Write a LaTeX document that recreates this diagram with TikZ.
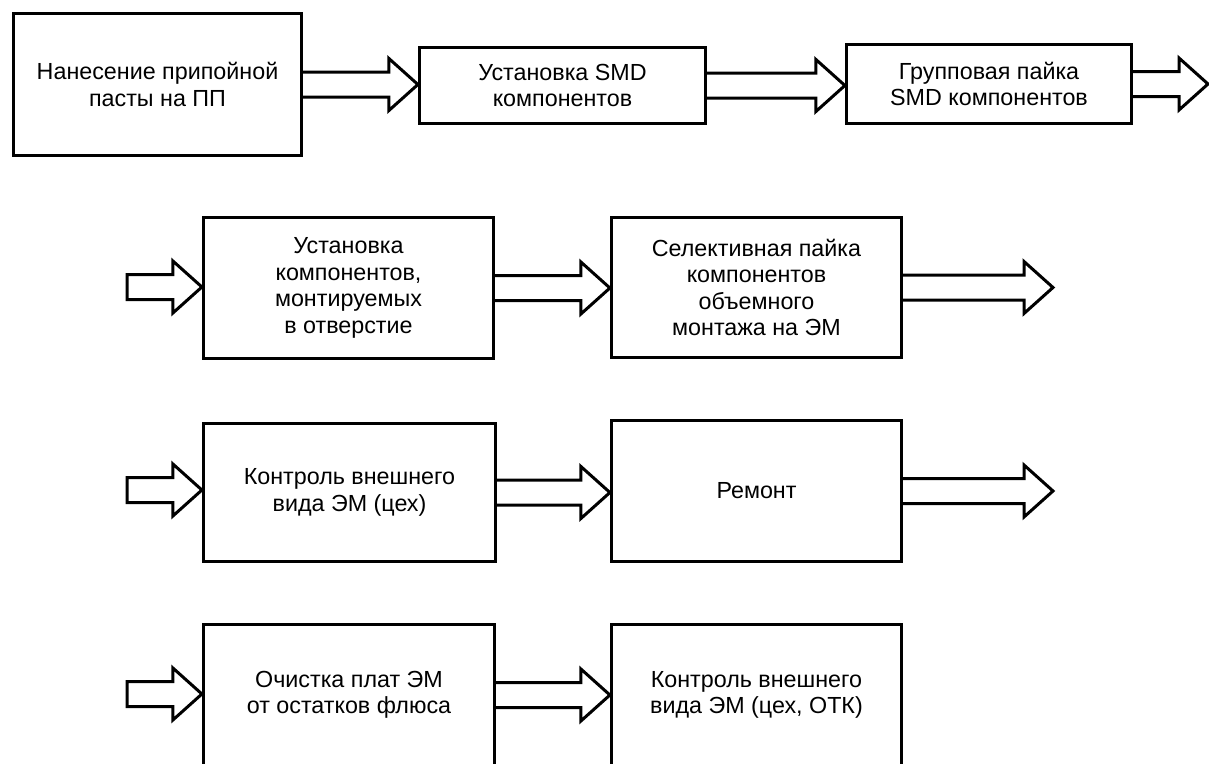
\documentclass[tikz,border=0pt]{standalone}
\usepackage{fontspec}
\setmainfont{Liberation Sans}
\usetikzlibrary{calc,backgrounds}
\tikzset{
  x=1pt, y=1pt,
  procbox/.style={draw, line width=3.2pt, align=center, inner sep=0pt,
    font=\fontsize{23.3}{26.5}\selectfont},
  fatarrow/.style={draw, line width=3pt, line join=miter, fill=white,
    to path={let \p1=(\tikztostart), \p2=(\tikztotarget) in
      (\x1,\y1+12.5pt) -- (\x2-29pt,\y1+12.5pt) -- (\x2-29pt,\y1+26pt) -- (\x2,\y1)
      -- (\x2-29pt,\y1-26pt) -- (\x2-29pt,\y1-12.5pt) -- (\x1,\y1-12.5pt)}},
  fatarrowclosed/.style={draw, line width=3pt, line join=miter, fill=white,
    to path={let \p1=(\tikztostart), \p2=(\tikztotarget) in
      (\x1,\y1+12.5pt) -- (\x2-29pt,\y1+12.5pt) -- (\x2-29pt,\y1+26pt) -- (\x2,\y1)
      -- (\x2-29pt,\y1-26pt) -- (\x2-29pt,\y1-12.5pt) -- (\x1,\y1-12.5pt) -- cycle}}
}
\begin{document}
\begin{tikzpicture}
\useasboundingbox (0,0) rectangle (1209,-763);
\clip (0,0) rectangle (1209,-763);

\node[procbox, minimum width=288pt, minimum height=142pt] (A) at (157.5,-84.5) {Нанесение припойной\\пасты на ПП};
\node[procbox, minimum width=286pt, minimum height=76pt] (B) at (562.5,-85.5) {Установка SMD\\компонентов};
\node[procbox, minimum width=285pt, minimum height=79pt] (C) at (989,-84) {Групповая пайка\\SMD компонентов};

\node[procbox, minimum width=290pt, minimum height=141pt] (D) at (348.5,-288) {Установка\\компонентов,\\монтируемых\\в отверстие};
\node[procbox, minimum width=290pt, minimum height=140pt] (E) at (756.5,-287.5) {Селективная пайка\\компонентов\\объемного\\монтажа на ЭМ};

\node[procbox, minimum width=292pt, minimum height=138pt] (F) at (349.5,-492.5) {Контроль внешнего\\вида ЭМ (цех)};
\node[procbox, minimum width=290pt, minimum height=141pt] (G) at (756.5,-491) {Ремонт};

\node[procbox, minimum width=291pt, minimum height=141pt] (H) at (349,-695) {Очистка плат ЭМ\\от остатков флюса};
\node[procbox, minimum width=290pt, minimum height=141pt] (I) at (756.5,-695) {Контроль внешнего\\вида ЭМ (цех, ОТК)};

\coordinate (c0) at (1208,-83);
\coordinate (e0) at (1053,-287);
\coordinate (g0) at (1053,-491);
\coordinate (d0) at (127,-287);
\coordinate (f0) at (127,-490);
\coordinate (h0) at (127,-694);

\begin{scope}[on background layer]
\draw[fatarrow] (A.east) to (B.west);
\draw[fatarrow] (B.east) to (C.west);
\draw[fatarrow] (C.east) to (c0);
\draw[fatarrowclosed] (d0) to (D.west);
\draw[fatarrow] (D.east) to (E.west);
\draw[fatarrow] (E.east) to (e0);
\draw[fatarrowclosed] (f0) to (F.west);
\draw[fatarrow] (F.east) to (G.west);
\draw[fatarrow] (G.east) to (g0);
\draw[fatarrowclosed] (h0) to (H.west);
\draw[fatarrow] (H.east) to (I.west);
\end{scope}
\end{tikzpicture}
\end{document}
